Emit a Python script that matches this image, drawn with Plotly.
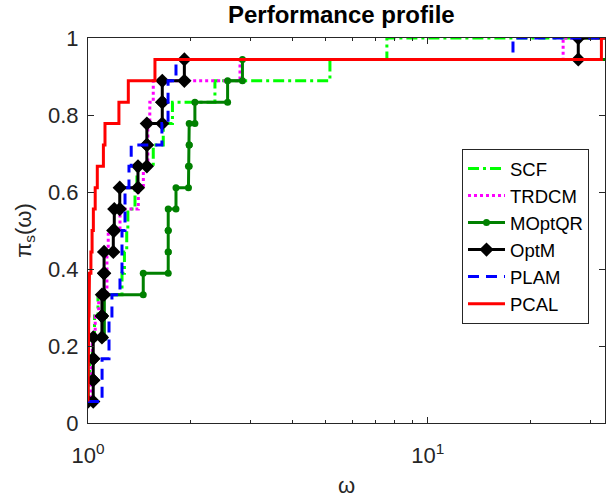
import numpy as np
import plotly.graph_objects as go

# Performance ratios r_{p,s} for the 18 test problems (np.inf = failure)
SCF = [1.0, 1.0, 1.01, 1.03, 1.045, 1.07, 1.259, 1.28, 1.30, 1.31,
       1.375, 1.393, 1.556, 1.665, 1.772, 2.363, 5.15, 7.575]
TRDCM = [1.0, 1.02, 1.025, 1.03, 1.05, 1.075, 1.137, 1.137, 1.147, 1.242,
         1.406, 1.455, 1.50, 1.50, 1.52, 1.556, 2.80, 25.0]
MOPTQR = [1.0, 1.0, 1.0, 1.0, 1.117, 1.117, 1.454, 1.722, 1.722, 1.722,
          1.815, 1.975, 1.985, 1.985, 2.063, 2.575, 2.847, np.inf]
OPTM = [1.0, 1.036, 1.036, 1.036, 1.099, 1.099, 1.115, 1.115, 1.187, 1.195,
        1.24, 1.403, 1.49, 1.49, 1.654, 1.654, 1.921, 27.7]
PLAM = [1.0, 1.10, 1.10, 1.153, 1.153, 1.176, 1.242, 1.259, 1.259, 1.285,
        1.285, 1.32, 1.34, 1.65, 1.72, 1.72, 1.815, 17.8]
PCAL = [1.0, 1.0, 1.0, 1.003, 1.005, 1.007, 1.01, 1.02, 1.028, 1.037,
        1.05, 1.065, 1.11, 1.122, 1.233, 1.314, 1.574, 32.4]

SOLVERS = ["SCF", "TRDCM", "MOptQR", "OptM", "PLAM", "PCAL"]
X_MAX = 33.2          # right end of the omega axis
X_BEYOND = 100.0      # where unsolved problems / tails are sent (off-axis)

STYLES = {
    "SCF":    dict(line=dict(color="#00FF00", width=3, dash="11px,4px,3px,4px"), mode="lines"),
    "TRDCM":  dict(line=dict(color="#FF00FF", width=3, dash="3px,3px"), mode="lines"),
    "MOptQR": dict(line=dict(color="#008000", width=3),
                   marker=dict(symbol="circle", size=7, color="#008000"), mode="lines+markers"),
    "OptM":   dict(line=dict(color="#000000", width=3),
                   marker=dict(symbol="diamond", size=11, color="#000000"), mode="lines+markers"),
    "PLAM":   dict(line=dict(color="#0000FF", width=3, dash="11px,7px"), mode="lines"),
    "PCAL":   dict(line=dict(color="#FF0000", width=3), mode="lines"),
}


def profile_stairs(ratios):
    """Stair-step vertices of the performance profile rho_s(tau)."""
    r = np.sort(np.asarray(ratios, dtype=float))
    r = np.where(np.isfinite(r), r, X_BEYOND)
    n = len(r)
    p = np.arange(1, n + 1) / n
    xs, ys = [], []
    for i in range(n):
        xs.append(r[i]); ys.append(p[i])
        nxt = r[i + 1] if i + 1 < n else X_BEYOND
        xs.append(nxt); ys.append(p[i])
    return xs, ys


fig = go.Figure()
for name, data in zip(SOLVERS, [SCF, TRDCM, MOPTQR, OPTM, PLAM, PCAL]):
    xs, ys = profile_stairs(data)
    fig.add_trace(go.Scatter(x=xs, y=ys, name=name, **STYLES[name]))

axis_col = "#262626"
fig.update_layout(
    width=606, height=498,
    margin=dict(l=88, r=1, t=38, b=75),
    paper_bgcolor="white", plot_bgcolor="white",
    font=dict(family="Liberation Sans, Arial, sans-serif", size=22, color=axis_col),
    title=dict(text="<b>Performance profile</b>", x=0.49, xref="paper", xanchor="center",
               y=1 - 15 / 498, yref="container", yanchor="middle",
               font=dict(size=24, color="#000000")),
    legend=dict(x=0.7234, y=0.712, xanchor="left", yanchor="top",
                bgcolor="white", bordercolor=axis_col, borderwidth=1,
                font=dict(size=18.5, color="#000000"), itemwidth=37,
                tracegroupgap=0),
)

fig.update_xaxes(
    type="log", range=[0, np.log10(X_MAX)],
    tickvals=[1, 10], ticktext=["10<sup>0</sup>", "10<sup>1</sup>"],
    ticks="inside", ticklen=6, tickcolor=axis_col, ticklabelstandoff=13,
    minor=dict(ticks="inside", ticklen=3, tickcolor=axis_col,
               tickvals=[2, 3, 4, 5, 6, 7, 8, 9, 20, 30], showgrid=False),
    showline=True, linecolor=axis_col, linewidth=1, mirror="ticks",
    showgrid=False, zeroline=False,
    title=dict(text="ω", font=dict(size=22), standoff=12),
)
fig.update_yaxes(
    range=[0, 1],
    tickvals=[0, 0.2, 0.4, 0.6, 0.8, 1], ticktext=["0", "0.2", "0.4", "0.6", "0.8", "1"],
    ticks="inside", ticklen=6, tickcolor=axis_col, ticklabelstandoff=4,
    showline=True, linecolor=axis_col, linewidth=1, mirror="ticks",
    showgrid=False, zeroline=False,
    title=dict(text="π<sub>s</sub>(ω)", font=dict(size=22), standoff=10),
)

fig.write_html("out.html")
